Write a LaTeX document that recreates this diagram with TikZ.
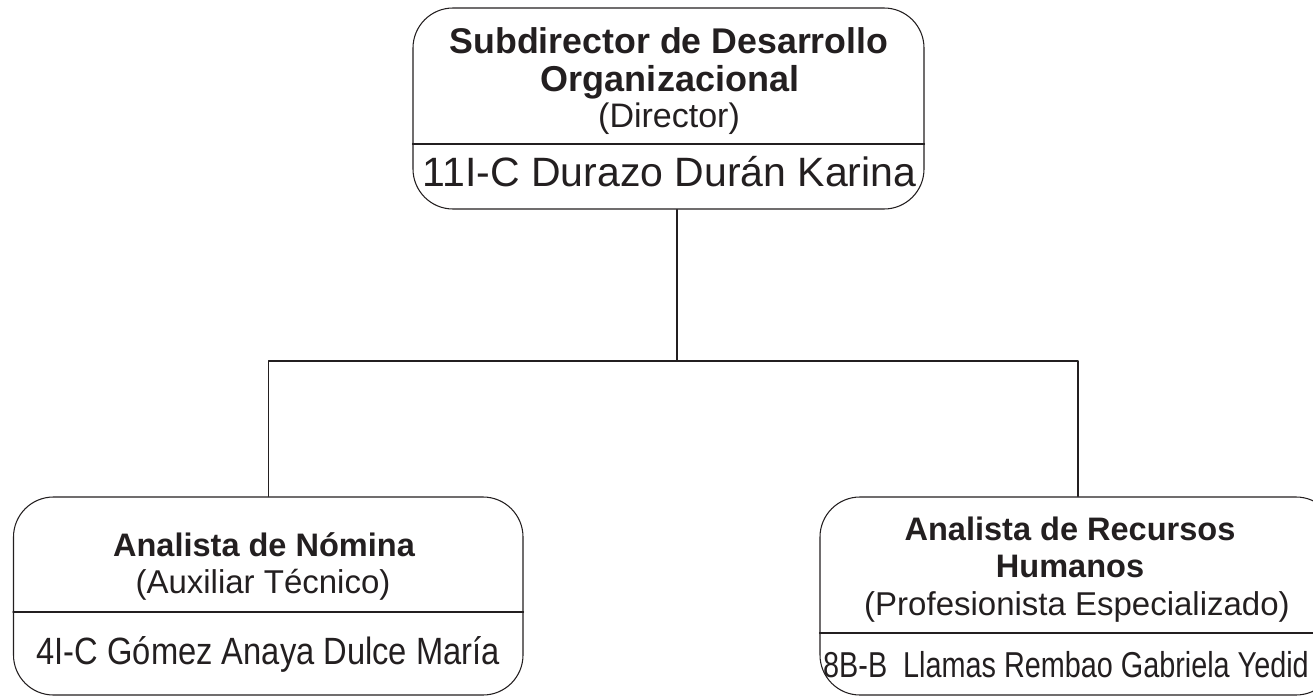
\documentclass[tikz,border=0pt]{standalone}
\usepackage{fontspec}
\setmainfont{Liberation Sans}
\definecolor{tinta}{HTML}{231F20}
\def\pxl{0.75pt}
\tikzset{
  caja/.style={draw=tinta, line width=0.8pt, rounded corners=30pt, inner sep=0pt},
  linea/.style={draw=tinta, line width=0.8pt},
  titulo/.style={font=\fontsize{#1}{#1}\selectfont\bfseries, text=tinta, inner sep=0pt, anchor=base},
  puesto/.style={font=\fontsize{#1}{#1}\selectfont, text=tinta, inner sep=0pt, anchor=base},
  nombre/.style={font=\fontsize{#1}{#1}\selectfont, text=tinta, inner sep=0pt, anchor=base}
}
\begin{document}
\begin{tikzpicture}[x=0.75pt, y=-0.75pt, line join=round, line cap=round]
  \useasboundingbox (0,0) rectangle (1313,696);
  % cajas
  \node[caja, minimum width=511*\pxl, minimum height=201*\pxl] (dir) at (668.5,108.5) {};
  \node[caja, minimum width=509.5*\pxl, minimum height=198*\pxl] (nom) at (268.25,596) {};
  \node[caja, minimum width=516*\pxl, minimum height=198*\pxl] (rh) at (1078,596) {};
  % divisiones
  \draw[linea] (dir.west |- 0,144) -- (dir.east |- 0,144);
  \draw[linea] (nom.west |- 0,612) -- (nom.east |- 0,612);
  \draw[linea] (rh.west |- 0,633) -- (rh.east |- 0,633);
  % textos
  \node[titulo=26.8pt] (dir-a) at (669,53) {Subdirector de Desarrollo};
  \node[titulo=27pt] (dir-b) at (670,91) {Organizacional};
  \node[puesto=25.5pt] (dir-p) at (669,127) {(Director)};
  \node[nombre=30.75pt] (dir-n) at (669.5,186) {11I-C Durazo Durán Karina};
  \node[titulo=24.4pt] (nom-a) at (264,556) {Analista de Nómina};
  \node[puesto=24.75pt] (nom-p) at (263,593) {(Auxiliar Técnico)};
  \node[nombre=28.5pt] (nom-n) at (268.25,664) {\scalebox{0.86}[1]{4I-C Gómez Anaya Dulce María}};
  \node[titulo=24.4pt] (rh-a) at (1070,540) {Analista de Recursos};
  \node[titulo=24.4pt] (rh-b) at (1070,577) {Humanos};
  \node[puesto=24.75pt] (rh-p) at (1077,615) {(Profesionista Especializado)};
  \node[nombre=27pt] (rh-n) at (1066,677) {\scalebox{0.8}[1]{8B-B\ \ Llamas Rembao Gabriela Yedid}};
  % conectores
  \coordinate (bus) at (677,361);
  \draw[linea] (dir.south -| bus) -- (bus);
  \draw[linea] (nom.north) -- (nom.north |- bus) -- (rh.north |- bus) -- (rh.north);
\end{tikzpicture}
\end{document}
